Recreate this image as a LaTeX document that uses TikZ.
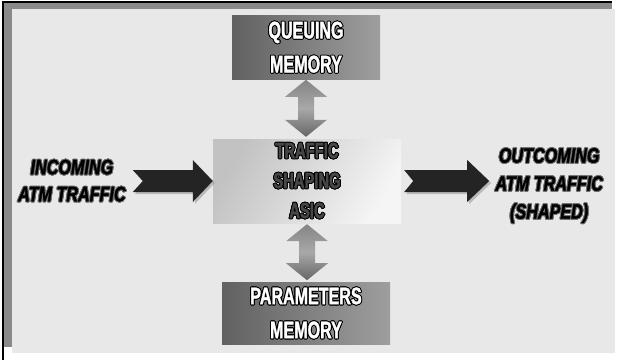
\documentclass[tikz,border=0pt]{standalone}
\usepackage{fontspec}
\usepackage{contour}
\usetikzlibrary{
    positioning,
    shadows
}
\newfontfamily\blockfont[FakeStretch=0.67, FakeBold=1.5]{Liberation Sans}
\newfontfamily\sidefont[FakeStretch=0.77, FakeBold=1.5]{Liberation Sans}
\contourlength{0.9pt}
\definecolor{panelgray}{HTML}{E8E8E8}
\definecolor{bandgray}{HTML}{8A8A8A}

\tikzset{
    memorybox/.style={minimum width=#1, inner sep=0pt, align=center,
        text=white, left color=black!62, right color=black!38,
        font=\blockfont\bfseries\fontsize{24}{34}\selectfont},
    asicbox/.style={minimum width=188pt, minimum height=84pt, inner sep=0pt,
        align=center, text=black!72, left color=black!24, right color=black!4,
        shading angle=60, font=\blockfont\bfseries\fontsize{22}{30}\selectfont},
    sidelabel/.style={inner sep=0pt, align=center,
        font=\sidefont\bfseries\itshape\fontsize{21}{27}\selectfont},
    flatarrow/.style={fill=black!86, drop shadow={shadow xshift=2pt,
        shadow yshift=-2pt, fill=black!45}},
    duplexarrow/.style={top color=black!48, bottom color=black!60,
        middle color=black!34}
}

\begin{document}
\begin{tikzpicture}[x=1pt,y=-1pt]
    \useasboundingbox (0,0) rectangle (618,360);

    \fill[white] (0,0) rectangle (618,360);
    \fill[bandgray] (4,3) rectangle (612,347);
    \fill[panelgray] (12,9) rectangle (615,353);
    \draw[line width=2pt] (3,360) -- (3,2) -- (612,2);

    \node[asicbox] (asic) at (307,181)
        {\contour{black}{TRAFFIC}\\\contour{black}{SHAPING}\\\contour{black}{ASIC}};
    \node[memorybox=148pt, minimum height=64pt, above=59pt of asic, xshift=-1pt] (queue)
        {\contour{black}{QUEUING}\\\contour{black}{MEMORY}};
    \node[memorybox=168pt, minimum height=62pt, below=59pt of asic, xshift=-1pt] (params)
        {\contour{black}{PARAMETERS}\\\contour{black}{MEMORY}};

    \node[sidelabel, left=87pt of asic] (incoming)
        {\contour{black!55}{INCOMING}\\\contour{black!55}{ATM TRAFFIC}};
    \node[sidelabel, right=94pt of asic, yshift=-5pt, font=\sidefont\bfseries\itshape\fontsize{21}{28}\selectfont] (outcoming)
        {\contour{black!55}{OUTCOMING}\\\contour{black!55}{ATM TRAFFIC}\\\contour{black!55}{(SHAPED)}};

    % block arrows into and out of the asic
    \fill[flatarrow] (asic.west) -- ++(-20,-21) -- ++(0,10) -- ++(-60,0)
        -- ++(10,11) -- ++(-10,11) -- ++(60,0) -- ++(0,10) -- cycle;
    \fill[flatarrow] ([xshift=12pt]asic.east) -- ++(-9,-11) -- ++(63,0)
        -- ++(0,-10) -- ++(22,21) -- ++(-22,21) -- ++(0,-10) -- ++(-63,0) -- cycle;

    % memory links
    \shade[duplexarrow] (queue.south) -- ++(-21,17) -- ++(13,0) -- ++(0,23)
        -- ++(-13,0) -- ++(21,17) -- ++(21,-17) -- ++(-13,0) -- ++(0,-23)
        -- ++(13,0) -- cycle;
    \shade[duplexarrow] ([yshift=-1pt]asic.south) -- ++(-21,17) -- ++(13,0) -- ++(0,22)
        -- ++(-13,0) -- ++(21,17) -- ++(21,-17) -- ++(-13,0) -- ++(0,-22)
        -- ++(13,0) -- cycle;
\end{tikzpicture}
\end{document}
